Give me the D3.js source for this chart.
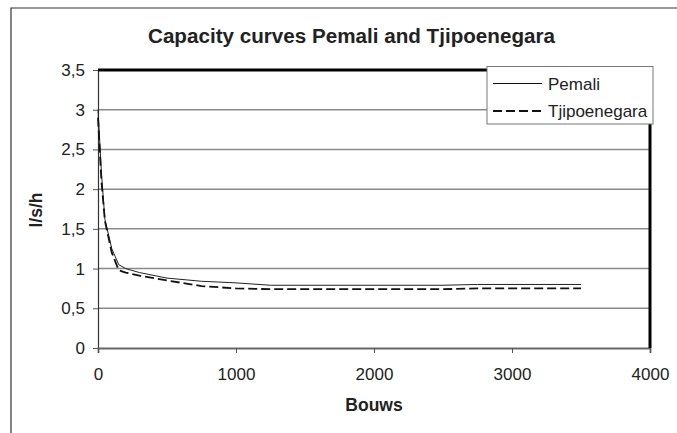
<!DOCTYPE html>
<html><head><meta charset="utf-8">
<script src="https://cdn.jsdelivr.net/npm/d3@7"></script>
<style>body{margin:0;background:#fff}svg{display:block}text{font-family:"Liberation Sans",Arial,sans-serif;fill:#222}</style>
</head><body>
<svg id="c" width="677" height="433"></svg>
<script>
const xValues = [0, 25, 50, 100, 150, 200, 300, 500, 750, 1000, 1250, 1500, 2000, 2500, 2750, 3000, 3500];
const pemali = [3.0, 2.2, 1.62, 1.25, 1.05, 1.0, 0.95, 0.88, 0.84, 0.82, 0.79, 0.79, 0.79, 0.79, 0.80, 0.80, 0.80];
const tjipoenegara = [2.9, 2.1, 1.6, 1.2, 0.98, 0.95, 0.91, 0.85, 0.78, 0.75, 0.74, 0.74, 0.74, 0.74, 0.75, 0.75, 0.75];
const xTicks = [0, 1000, 2000, 3000, 4000];
const yTicks = [0, 0.5, 1, 1.5, 2, 2.5, 3, 3.5];
const seriesNames = ["Pemali", "Tjipoenegara"];

const svg = d3.select("#c");
const L = 98, R = 650, T = 70, B = 348;
const x = d3.scaleLinear().domain([0, 4000]).range([L, R]);
const y = d3.scaleLinear().domain([0, 3.5]).range([B, T]);
const fmt = d => String(d).replace(".", ",");

// outer frame (left/top visible)
svg.append("path").attr("d", "M11,433V8H677").attr("fill", "none").attr("stroke", "#333").attr("stroke-width", 1.2);

// gridlines
svg.append("g").selectAll("line").data(yTicks.filter(d => d > 0 && d < 3.5)).join("line")
  .attr("x1", L).attr("x2", R).attr("y1", d => y(d)).attr("y2", d => y(d))
  .attr("stroke", "#8a8a8a").attr("stroke-width", 1.5);

// axes
const ya = svg.append("g").attr("transform", `translate(${L},0)`)
  .call(d3.axisLeft(y).tickValues(yTicks).tickFormat(fmt).tickSizeOuter(0).tickSize(5).tickPadding(8));
const xa = svg.append("g").attr("transform", `translate(0,${B})`)
  .call(d3.axisBottom(x).tickValues(xTicks).tickFormat(d3.format("d")).tickSizeOuter(0).tickSize(5).tickPadding(15));
[ya, xa].forEach(a => {
  a.selectAll("text").attr("font-size", 17).attr("fill", "#222").attr("font-family", "Liberation Sans, Arial, sans-serif");
  a.selectAll("line").attr("stroke", "#555");
});
ya.select(".domain").attr("stroke", "#333").attr("stroke-width", 1.2);
xa.select(".domain").attr("stroke", "#666").attr("stroke-width", 1.8);

// top and right thick borders
svg.append("line").attr("x1", L).attr("x2", R + 1.5).attr("y1", y(3.5)).attr("y2", y(3.5)).attr("stroke", "#000").attr("stroke-width", 3);
svg.append("line").attr("x1", x(4000)).attr("x2", x(4000)).attr("y1", T).attr("y2", B).attr("stroke", "#000").attr("stroke-width", 3);

// lines
const line = d3.line().x((d, i) => x(xValues[i])).y(d => y(d));
svg.append("path").datum(pemali).attr("d", line).attr("fill", "none").attr("stroke", "#222").attr("stroke-width", 1);
svg.append("path").datum(tjipoenegara).attr("d", line).attr("fill", "none").attr("stroke", "#111").attr("stroke-width", 1.8).attr("stroke-dasharray", "9,4");

// title and axis labels
svg.append("text").attr("x", 351.5).attr("y", 42.5).attr("text-anchor", "middle").attr("font-size", 19.5).attr("font-weight", "bold")
  .attr("textLength", 407).attr("lengthAdjust", "spacingAndGlyphs").text("Capacity curves Pemali and Tjipoenegara");
svg.append("text").attr("x", 374).attr("y", 410.5).attr("text-anchor", "middle").attr("font-size", 17.5).attr("font-weight", "bold").text("Bouws");
svg.append("text").attr("transform", "translate(42,210) rotate(-90)").attr("text-anchor", "middle").attr("font-size", 17.5).attr("font-weight", "bold").text("l/s/h");

// legend
const lg = svg.append("g");
lg.append("rect").attr("x", 487).attr("y", 66.5).attr("width", 166).attr("height", 57.5).attr("fill", "#fff").attr("stroke", "#777").attr("stroke-width", 1);
seriesNames.forEach((n, i) => {
  const yy = 83.5 + i * 27.5;
  lg.append("line").attr("x1", 493).attr("x2", 542).attr("y1", yy).attr("y2", yy)
    .attr("stroke", "#111").attr("stroke-width", i ? 1.8 : 1).attr("stroke-dasharray", i ? "9,4" : null);
  lg.append("text").attr("x", 548).attr("y", yy + 6).attr("font-size", 17).text(n);
});
</script>
</body></html>
